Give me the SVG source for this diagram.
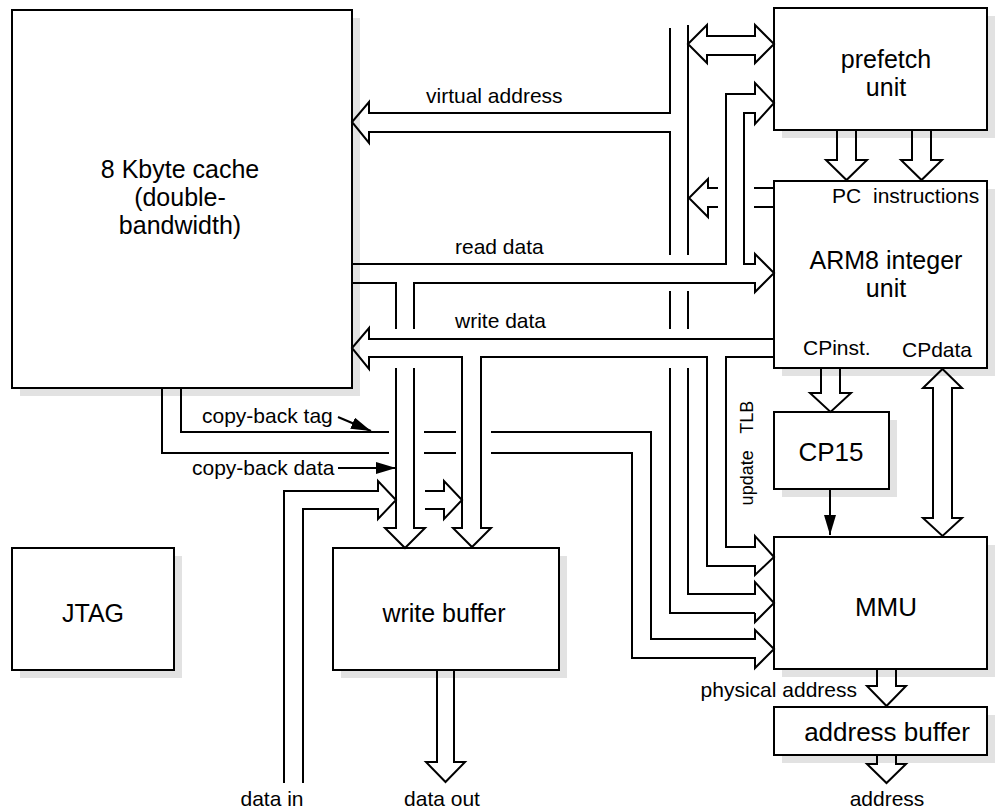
<svg xmlns="http://www.w3.org/2000/svg" width="997" height="811" viewBox="0 0 997 811">
<style>
.box{fill:#fff;stroke:#000;stroke-width:2}
.sh{fill:#e2e2e2}
.big{font-family:"Liberation Sans",Arial,sans-serif;font-size:26px;fill:#000;text-anchor:middle}
.ml{font-size:25px}
.lbl{font-family:"Liberation Sans",Arial,sans-serif;font-size:21px;fill:#000}
.c{fill:none;stroke:#000;stroke-width:2;stroke-linejoin:miter;stroke-linecap:butt}
</style>
<defs>
<marker id="ah" viewBox="0 0 20 12" refX="20" refY="6" markerWidth="20" markerHeight="12" markerUnits="userSpaceOnUse" orient="auto">
<path d="M0,0 L20,6 L0,12 z" fill="#000"/>
</marker>
</defs>
<rect width="997" height="811" fill="#fff"/>

<g id="cache">
<rect class="sh" x="20" y="18" width="340" height="378"/>
<rect class="box" x="12" y="10" width="340" height="378"/>
<text class="big ml"><tspan x="180" y="178">8 Kbyte cache</tspan><tspan x="180" y="206">(double-</tspan><tspan x="180" y="234">bandwidth)</tspan></text>
</g>

<g id="prefetch">
<rect class="sh" x="782" y="16" width="213" height="122"/>
<rect class="box" x="774" y="8" width="213" height="122"/>
<text class="big ml"><tspan x="886" y="68">prefetch</tspan><tspan x="886" y="96">unit</tspan></text>
</g>

<g id="arm8">
<rect class="sh" x="782" y="189" width="213" height="187"/>
<rect class="box" x="774" y="181" width="213" height="187"/>
<text class="big ml"><tspan x="886" y="269">ARM8 integer</tspan><tspan x="886" y="297">unit</tspan></text>
</g>

<g id="cp15">
<rect class="sh" x="782" y="420" width="115" height="77"/>
<rect class="box" x="774" y="412" width="115" height="77"/>
<text class="big" x="831" y="461">CP15</text>
</g>

<g id="mmu">
<rect class="sh" x="782" y="545" width="213" height="132"/>
<rect class="box" x="774" y="537" width="213" height="132"/>
<text class="big" x="886" y="616">MMU</text>
</g>

<g id="addrbuf">
<rect class="sh" x="782" y="715" width="213" height="48"/>
<rect class="box" x="774" y="707" width="213" height="48"/>
<text class="big" x="887" y="741">address buffer</text>
</g>

<g id="jtag">
<rect class="sh" x="20" y="556" width="162" height="122"/>
<rect class="box" x="12" y="548" width="162" height="122"/>
<text class="big" x="93" y="622" style="font-size:25px">JTAG</text>
</g>

<g id="writebuf">
<rect class="sh" x="341" y="556" width="226" height="122"/>
<rect class="box" x="333" y="548" width="226" height="122"/>
<text class="big" x="444" y="622" style="font-size:25px">write buffer</text>
</g>

<g id="connectors">
<!-- virtual address -->
<path class="c" d="M670,28 V113 H369 V102 L352,122 L369,143 V132 H670 V255"/>
<path class="c" d="M670,291 V329 M670,368 V613 H755"/>
<path class="c" d="M688,25 V255 M688,291 V329 M688,368 V594 H755 V582 L774,603 L755,622 V613"/>
<!-- bus <-> prefetch -->
<path class="c" d="M688,44 L707,25 V36 H755 V25 L774,44 L755,63 V55 H707 V63 Z"/>
<!-- read data -->
<path class="c" d="M352,264 H726 V94 H755 V83 L774,103 L755,124 V113 H744 V264 H755 V254 L774,273 L755,292 V283 H414 V329"/>
<path class="c" d="M414,368 V528 H425 L405,548 L385,528 H396 V368 M396,329 V283 H352"/>
<!-- ARM -> bus -->
<path class="c" d="M774,188 H754 M718,188 H708 V179 L689,198 L708,217 V207 H718 M754,207 H774"/>
<!-- write data -->
<path class="c" d="M774,339 H369 V328 L352,348 L369,369 V357 H462 V528 H453 L472,547 L491,528 H481 V357 H707 V566 H755 V575 L774,557 L755,536 V547 H726 V357 H774"/>
<!-- copy-back -->
<path class="c" d="M181,388 V432 H389 M424,432 H456 M491,432 H651 V639 H755 V630 L774,649 L755,668 V658 H632 V453 H491 M456,453 H424 M389,453 H162 V388"/>
<!-- data in -->
<path class="c" d="M284,783 V491 H378 V481 L396,500 L378,519 V509 H303 V783"/>
<path class="c" d="M425,491 H444 V481 L462,500 L444,519 V509 H425"/>
<!-- prefetch -> ARM -->
<path class="c" d="M837,130 V160 H826 L846.5,180 L867,160 H856 V130"/>
<path class="c" d="M912,130 V160 H901 L921.5,180 L942,160 H931 V130"/>
<!-- CPinst -> CP15 -->
<path class="c" d="M821,368 V393 H810 L830.5,412 L851,393 H840 V368"/>
<!-- CP15 -> MMU -->
<path class="c" d="M830,489 V535" marker-end="url(#ah)"/>
<!-- CPdata -->
<path class="c" d="M942.5,369 L962,388 H952 V518 H962 L942.5,536 L923,518 H933 V388 H923 Z"/>
<!-- MMU -> address buffer -->
<path class="c" d="M877,669 V686 H867 L886.5,706 L906,686 H896 V669"/>
<path class="c" d="M877,755 V764 H867 L886.5,783 L906,764 H896 V755"/>
<!-- write buffer -> data out -->
<path class="c" d="M437,670 V762 H426 L445.5,782 L465,762 H454 V670"/>
<!-- pointer arrows -->
<path class="c" d="M338,417 L371,431" marker-end="url(#ah)"/>
<path class="c" d="M338,468 H396" marker-end="url(#ah)"/>
</g>

<g id="labels">
<text class="lbl" x="426" y="103">virtual address</text>
<text class="lbl" x="455" y="254">read data</text>
<text class="lbl" x="455" y="328">write data</text>
<text class="lbl" x="202" y="423">copy-back tag</text>
<text class="lbl" x="192" y="475">copy-back data</text>
<text class="lbl" x="272" y="806" text-anchor="middle">data in</text>
<text class="lbl" x="442" y="806" text-anchor="middle">data out</text>
<text class="lbl" x="857" y="697" text-anchor="end">physical address</text>
<text class="lbl" x="887" y="806" text-anchor="middle">address</text>
<text class="lbl"><tspan x="832" y="203">PC</tspan><tspan x="873" y="203">instructions</tspan></text>
<text class="lbl" x="803" y="355">CPinst.</text>
<text class="lbl" x="902" y="357">CPdata</text>
<text class="lbl" transform="translate(753,453) rotate(-90)" text-anchor="middle" style="font-size:18px" word-spacing="12">update TLB</text>
</g>
</svg>
